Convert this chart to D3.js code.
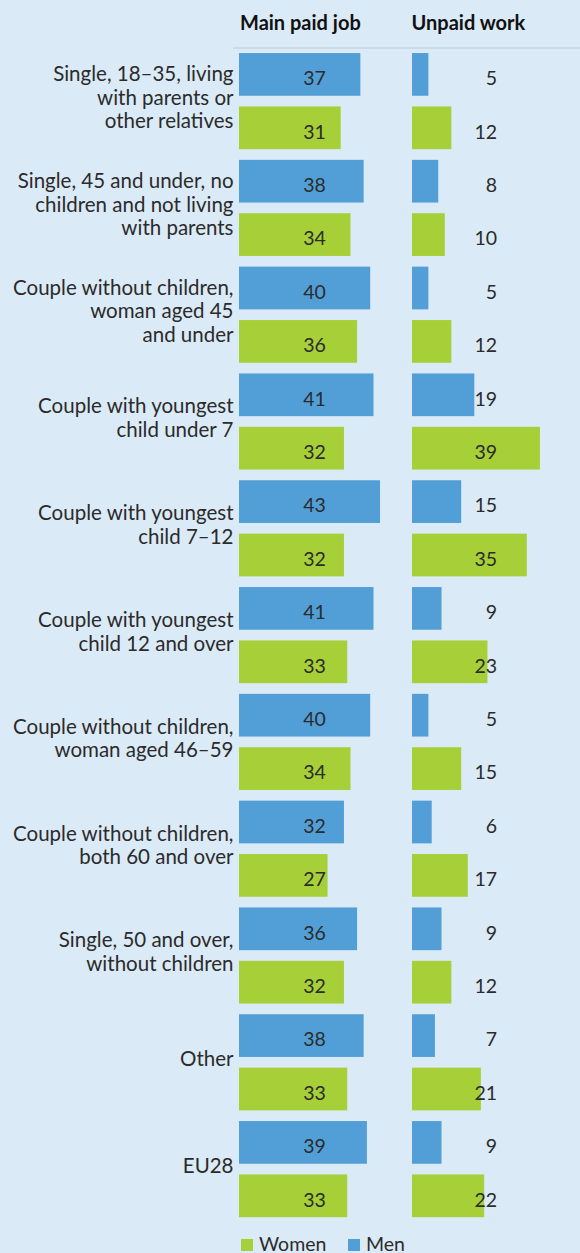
<!DOCTYPE html>
<html><head><meta charset="utf-8">
<script src="https://cdn.jsdelivr.net/npm/d3@7"></script>
<style>
html,body{margin:0;padding:0;background:#dbeaf7;}
svg{display:block;}
</style></head>
<body>
<svg id="chart" width="580" height="1253"></svg>
<script>
const categories = [
  "Single, 18–35, living|with parents or|other relatives",
  "Single, 45 and under, no|children and not living|with parents",
  "Couple without children,|woman aged 45|and under",
  "Couple with youngest|child under 7",
  "Couple with youngest|child 7–12",
  "Couple with youngest|child 12 and over",
  "Couple without children,|woman aged 46–59",
  "Couple without children,|both 60 and over",
  "Single, 50 and over,|without children",
  "Other",
  "EU28"
];
const menPaid     = [37, 38, 40, 41, 43, 41, 40, 32, 36, 38, 39];
const womenPaid   = [31, 34, 36, 32, 32, 33, 34, 27, 32, 33, 33];
const menUnpaid   = [5, 8, 5, 19, 15, 9, 5, 6, 9, 7, 9];
const womenUnpaid = [12, 10, 12, 39, 35, 23, 15, 17, 12, 21, 22];
const panelTitles = ["Main paid job", "Unpaid work"];
const seriesNames = ["Women", "Men"];

const colors = {Men: "#529fd7", Women: "#a7cf38"};
const textColor = "#2b2b2b";
const FONT = "Lato, 'Source Sans Pro', sans-serif";

const svg = d3.select("#chart");

const rows = [];
categories.forEach((c, i) => {
  rows.push({key: i + "-M", g: i, sex: "Men", paid: menPaid[i], unpaid: menUnpaid[i]});
  rows.push({key: i + "-W", g: i, sex: "Women", paid: womenPaid[i], unpaid: womenUnpaid[i]});
});

const y = d3.scaleBand().domain(rows.map(d => d.key)).range([47.7, 1222.5])
  .paddingInner(0.2).paddingOuter(0.1);
const xPaid = d3.scaleLinear().domain([0, 50]).range([239, 403]);
const xUnpaid = d3.scaleLinear().domain([0, 50]).range([412, 576]);

// header
svg.append("g").selectAll("text").data(panelTitles).join("text")
  .attr("x", (d, i) => i === 0 ? xPaid(0) + 1 : xUnpaid(0) - 0.5)
  .attr("y", 30)
  .attr("font-family", FONT).attr("font-weight", "bold").attr("font-size", 20)
  .attr("fill", "#111").text(d => d);

svg.append("line").attr("x1", 233).attr("x2", 580).attr("y1", 48).attr("y2", 48)
  .attr("stroke", "#c9d3dd").attr("stroke-width", 1.5);

// bars
const gBars = svg.append("g");
gBars.selectAll("rect.paid").data(rows).join("rect").attr("class", "paid")
  .attr("x", xPaid(0)).attr("y", d => y(d.key))
  .attr("width", d => xPaid(d.paid) - xPaid(0)).attr("height", y.bandwidth())
  .attr("fill", d => colors[d.sex]);
gBars.selectAll("rect.unpaid").data(rows).join("rect").attr("class", "unpaid")
  .attr("x", xUnpaid(0)).attr("y", d => y(d.key))
  .attr("width", d => xUnpaid(d.unpaid) - xUnpaid(0)).attr("height", y.bandwidth())
  .attr("fill", d => colors[d.sex]);

// value labels
const vl = svg.append("g").attr("font-family", FONT).attr("font-size", 19.5).attr("fill", textColor);
vl.selectAll("text.vp").data(rows).join("text").attr("class", "vp")
  .attr("x", 314.5).attr("y", d => y(d.key) + y.bandwidth() / 2 + 10.8)
  .attr("text-anchor", "middle").text(d => d.paid);
vl.selectAll("text.vu").data(rows).join("text").attr("class", "vu")
  .attr("x", 497).attr("y", d => y(d.key) + y.bandwidth() / 2 + 10.8)
  .attr("text-anchor", "end").text(d => d.unpaid);

// category labels
const lineH = 23.5;
const cl = svg.append("g").attr("font-family", FONT).attr("font-size", 20.5).attr("fill", textColor);
categories.forEach((c, i) => {
  const lines = c.split("|");
  const top = y(i + "-M"), bot = y(i + "-W") + y.bandwidth();
  const center = (top + bot) / 2;
  const t = cl.append("text").attr("text-anchor", "end");
  lines.forEach((ln, j) => {
    t.append("tspan").attr("x", 233.5)
      .attr("y", center + 3.7 + (j - (lines.length - 1) / 2) * lineH)
      .text(ln);
  });
});

// legend
const leg = svg.append("g").attr("font-family", FONT).attr("font-size", 19.5).attr("fill", textColor);
const legX = [241, 348];
seriesNames.forEach((s, i) => {
  leg.append("rect").attr("x", legX[i]).attr("y", 1239).attr("width", 12).attr("height", 12)
    .attr("fill", colors[s]);
  leg.append("text").attr("x", legX[i] + 18).attr("y", 1250.5).text(s);
});
</script>
</body></html>
